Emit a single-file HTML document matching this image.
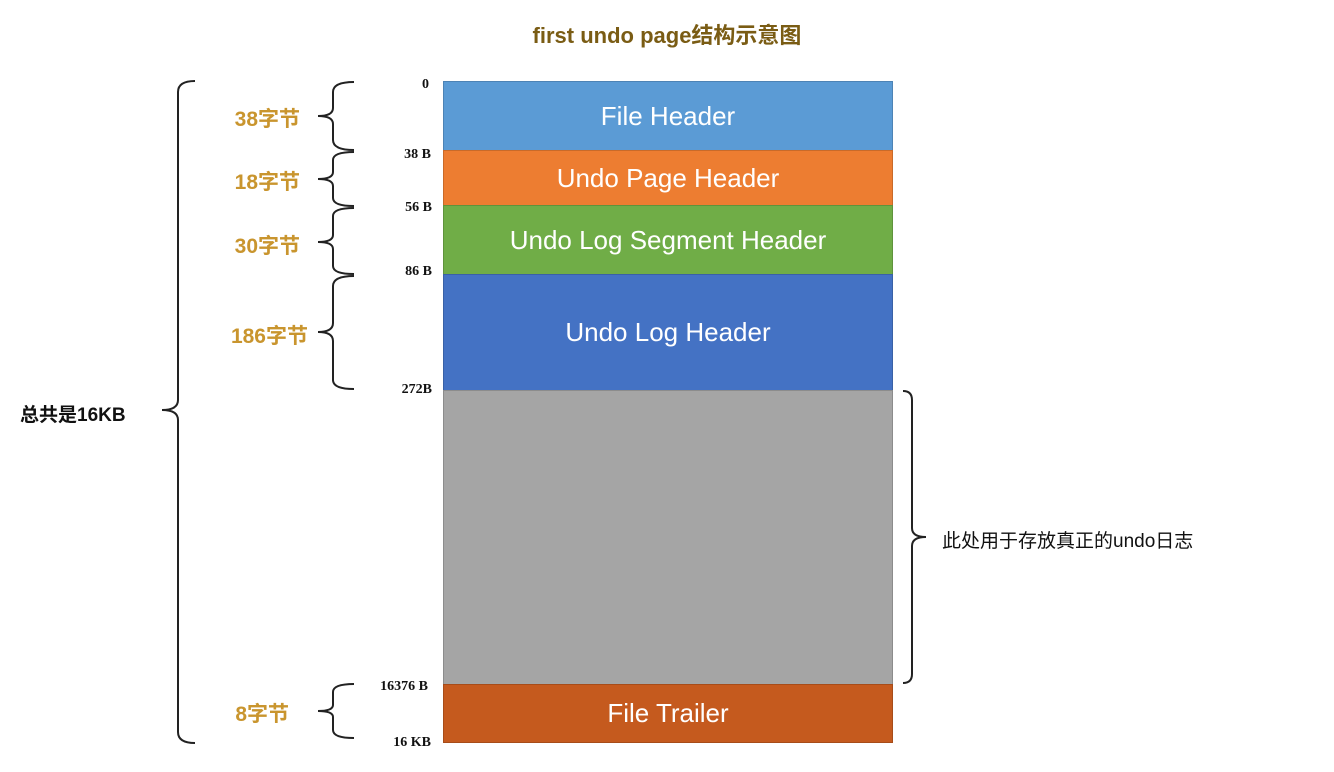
<!DOCTYPE html>
<html><head><meta charset="utf-8"><style>
body{margin:0;width:1334px;height:772px;background:#fff;position:relative;overflow:hidden;font-family:"Liberation Sans","Noto Sans CJK SC",sans-serif}
.t{position:absolute;white-space:nowrap}
.blk{position:absolute;left:443px;width:450px;color:#fff;font-size:26px;display:flex;align-items:center;justify-content:center;box-sizing:border-box;border:1px solid rgba(0,0,0,0.15)}
.off{position:absolute;font-family:"Liberation Serif",serif;font-weight:bold;font-size:14px;color:#111;text-align:right;width:80px}
.lab{position:absolute;color:#c9952e;font-weight:bold;font-size:21px;text-align:right;width:100px}
</style></head><body>
<div class="t" style="left:0;width:1334px;top:18px;text-align:center;font-size:22px;font-weight:bold;color:#7a5c14">first undo page结构示意图</div>

<div class="blk" style="top:81px;height:70px;background:#5b9bd5">File Header</div>
<div class="blk" style="top:150px;height:56px;background:#ed7d31">Undo Page Header</div>
<div class="blk" style="top:205px;height:70px;background:#70ad47">Undo Log Segment Header</div>
<div class="blk" style="top:274px;height:117px;background:#4472c4">Undo Log Header</div>
<div class="blk" style="top:390px;height:295px;background:#a5a5a5"></div>
<div class="blk" style="top:684px;height:59px;background:#c55a1e">File Trailer</div>

<div class="off" style="left:349px;top:77px">0</div>
<div class="off" style="left:351px;top:147px">38 B</div>
<div class="off" style="left:352px;top:200px">56 B</div>
<div class="off" style="left:352px;top:264px">86 B</div>
<div class="off" style="left:352px;top:382px">272B</div>
<div class="off" style="left:348px;top:679px">16376 B</div>
<div class="off" style="left:351px;top:735px">16 KB</div>

<div class="lab" style="left:200px;top:103px">38字节</div>
<div class="lab" style="left:200px;top:166px">18字节</div>
<div class="lab" style="left:200px;top:230px">30字节</div>
<div class="lab" style="left:208px;top:320px">186字节</div>
<div class="lab" style="left:189px;top:698px">8字节</div>

<div class="t" style="left:20px;top:400px;font-size:19px;font-weight:bold;color:#111">总共是16KB</div>
<div class="t" style="left:942px;top:526px;font-size:19px;color:#111">此处用于存放真正的undo日志</div>

<svg width="1334" height="772" style="position:absolute;left:0;top:0" fill="none" stroke="#222" stroke-width="2">
<path d="M354 82 Q333 82 333 92 L333 108 Q333 116 318 116 Q333 116 333 124 L333 140 Q333 150 354 150"/>
<path d="M354 152 Q333 152 333 160 L333 172 Q333 179 318 179 Q333 179 333 186 L333 198 Q333 206 354 206"/>
<path d="M354 208 Q333 208 333 216 L333 235 Q333 242 318 242 Q333 242 333 249 L333 266 Q333 274 354 274"/>
<path d="M354 276 Q333 276 333 286 L333 323 Q333 332 318 332 Q333 332 333 341 L333 380 Q333 389 354 389"/>
<path d="M354 684 Q333 684 333 692 L333 705 Q333 711 318 711 Q333 711 333 717 L333 730 Q333 738 354 738"/>
<path d="M195 81 Q178 81 178 92 L178 400 Q178 410 162 410 Q178 410 178 420 L178 732 Q178 743 195 743"/>
<path d="M903 391 Q912 391 912 400 L912 528 Q912 537 926 537 Q912 537 912 546 L912 674 Q912 683 903 683"/>
</svg>
</body></html>
